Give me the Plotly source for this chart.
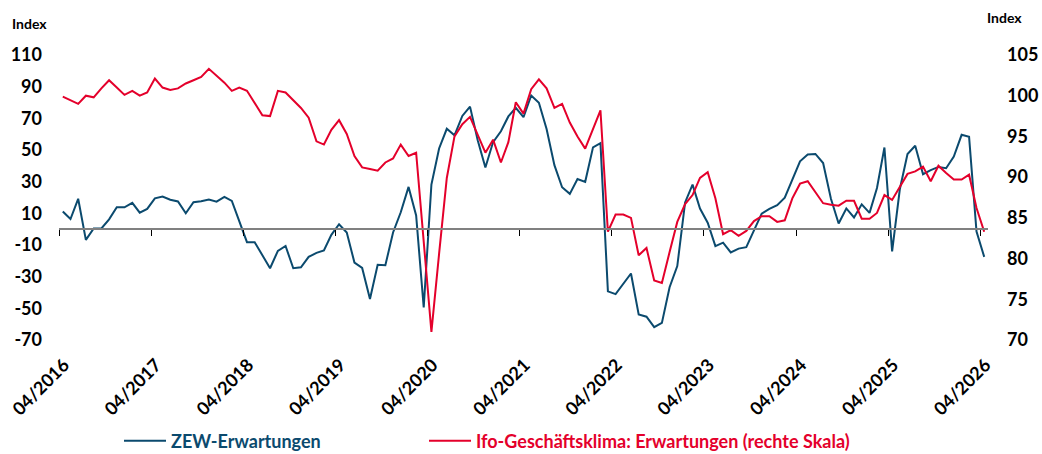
import plotly.graph_objects as go
import pandas as pd

# ---------------- data ----------------
months = pd.date_range("2016-04-01", "2026-04-01", freq="MS")

zew_expectations = [
    11.2, 6.4, 19.2, -6.8, 0.5, 0.5, 6.2, 13.8, 13.8,
    16.6, 10.4, 12.8, 19.5, 20.6, 18.6, 17.5, 10.0, 17.0, 17.6, 18.7, 17.4,
    20.4, 17.8, 5.1, -8.2, -8.2, -16.1, -24.7, -13.7, -10.6, -24.7, -24.1, -17.5,
    -15.0, -13.4, -3.6, 3.1, -2.1, -21.1, -24.5, -44.1, -22.5, -22.8, -2.1, 10.7,
    26.7, 8.7, -49.5, 28.2, 51.0, 63.4, 59.3, 71.5, 77.4, 56.1, 39.0, 55.0,
    61.8, 71.2, 76.6, 70.7, 84.4, 79.8, 63.3, 40.4, 26.5, 22.3, 31.7, 29.9,
    51.7, 54.3, -39.3, -41.0, -34.3, -28.0, -53.8, -55.3, -61.9, -59.2, -36.7, -23.3,
    16.9, 28.1, 13.0, 4.1, -10.7, -8.5, -14.7, -12.3, -11.4, -1.1, 9.8, 12.8,
    15.2, 19.9, 31.7, 42.9, 47.1, 47.5, 41.8, 19.2, 3.6, 13.1, 7.4, 15.7,
    10.3, 26.0, 51.6, -14.0, 25.2, 47.5, 52.7, 34.7, 37.3, 39.3, 38.5, 45.8,
    59.6, 58.3, -1.5, -17.5,
]

ifo_expectations = [
    99.9, 99.4, 99.0, 100.0, 99.8, 100.9, 101.9, 101.0, 100.1,
    100.6, 100.0, 100.4, 102.1, 101.0, 100.7, 100.9, 101.5, 101.9, 102.3, 103.3, 102.5,
    101.6, 100.6, 101.0, 100.6, 99.1, 97.6, 97.5, 100.6, 100.4, 99.5, 98.5, 97.3,
    94.4, 94.0, 95.8, 97.0, 95.3, 92.6, 91.2, 91.0, 90.8, 91.8, 92.3, 94.0,
    92.6, 93.0, 82.0, 71.0, 80.6, 89.9, 95.0, 96.5, 97.4, 95.2, 93.0, 94.6,
    91.8, 94.3, 99.2, 97.8, 100.8, 102.0, 100.9, 98.5, 99.0, 96.7, 95.0, 93.5,
    95.8, 98.2, 83.3, 85.4, 85.4, 85.0, 80.4, 81.3, 77.3, 77.0, 80.8, 84.5,
    86.7, 87.8, 89.9, 90.6, 87.4, 83.0, 83.5, 82.8, 83.4, 84.6, 85.2, 85.2,
    84.5, 84.7, 87.4, 89.2, 89.5, 88.1, 86.8, 86.6, 86.5, 87.1, 87.1, 84.9,
    84.9, 85.6, 87.8, 87.2, 88.8, 90.4, 90.7, 91.3, 89.5, 91.4, 90.5, 89.7,
    89.7, 90.3, 86.2, 83.3,
]

x_tick_dates = pd.date_range("2016-04-01", "2026-04-01", freq="12MS")
x_tick_text = [d.strftime("%m/%Y") for d in x_tick_dates]
left_ticks = list(range(-70, 111, 20))
right_ticks = list(range(70, 106, 5))

# ---------------- style ----------------
BLUE = "#0b4a6e"
RED = "#e4002b"
FONT = "Lato"
W, H = 1042, 454
ML, MR, MT, MB = 59, 54, 55, 114
PW, PH = W - ML - MR, H - MT - MB

x_range = [months[0], months[-1] + pd.offsets.MonthBegin(1)]
left_range = [left_ticks[0], left_ticks[-1]]
right_range = [right_ticks[0], right_ticks[-1]]

fig = go.Figure()
fig.add_trace(go.Scatter(
    x=months, y=zew_expectations, mode="lines",
    name=f"<span style='color:{BLUE}'>ZEW-Erwartungen</span>",
    line=dict(color=BLUE, width=2),
    xperiod="M1", xperiodalignment="middle",
    xaxis="x", yaxis="y", legend="legend",
))
fig.add_trace(go.Scatter(
    x=months, y=ifo_expectations, mode="lines",
    name=f"<span style='color:{RED}'>Ifo-Geschäftsklima: Erwartungen (rechte Skala)</span>",
    line=dict(color=RED, width=2),
    xperiod="M1", xperiodalignment="middle",
    xaxis="x", yaxis="y2", legend="legend2",
))
# empty trace so that the zero-line axis (x2) is rendered
fig.add_trace(go.Scatter(x=[], y=[], xaxis="x2", yaxis="y", showlegend=False,
                         hoverinfo="skip"))

tickfont = dict(family=FONT, size=18, color="black", weight="bold")
zero_pos = (0 - left_range[0]) / (left_range[1] - left_range[0])
legend_font = dict(family=FONT, size=18, weight="bold")
legend_y = (H - MB - 441) / PH

fig.update_layout(
    width=W, height=H,
    margin=dict(l=ML, r=MR, t=MT, b=MB, pad=0, autoexpand=False),
    paper_bgcolor="white", plot_bgcolor="white",
    font=dict(family=FONT, color="black"),
    hovermode=False,
    xaxis=dict(
        type="date", range=x_range, automargin=False,
        tickvals=x_tick_dates, ticktext=x_tick_text, tickangle=-45,
        tickfont=tickfont, showgrid=False, zeroline=False, showline=False,
        ticks="", ticklabelstandoff=10, ticklabelshift=5,
    ),
    xaxis2=dict(
        type="date", range=x_range, overlaying="x", anchor="free", position=zero_pos,
        automargin=False,
        tickvals=x_tick_dates, showticklabels=False, showgrid=False, zeroline=False,
        showline=True, linecolor="#808080", linewidth=2,
        ticks="outside", ticklen=6, tickwidth=1, tickcolor="black",
    ),
    yaxis=dict(
        range=left_range, tickvals=left_ticks, ticktext=[str(v) for v in left_ticks],
        automargin=False,
        tickfont=tickfont, showgrid=False, zeroline=False, showline=False,
        ticks="", ticklabelstandoff=16,
    ),
    yaxis2=dict(
        range=right_range, tickvals=right_ticks, ticktext=[str(v) for v in right_ticks],
        overlaying="y", side="right", automargin=False,
        tickfont=tickfont, showgrid=False, zeroline=False, showline=False,
        ticks="", ticklabelstandoff=18,
    ),
    showlegend=True,
    legend=dict(
        orientation="h", x=(119 - ML) / PW, xanchor="left",
        y=legend_y, yanchor="middle", font=legend_font, itemwidth=42,
        bgcolor="rgba(0,0,0,0)",
    ),
    legend2=dict(
        orientation="h", x=(424 - ML) / PW, xanchor="left",
        y=legend_y, yanchor="middle", font=legend_font, itemwidth=42,
        bgcolor="rgba(0,0,0,0)",
    ),
    annotations=[
        dict(text="<b>Index</b>", xref="paper", yref="paper",
             x=(10 - ML) / PW, y=(H - MB - 23) / PH, xanchor="left", yanchor="middle",
             showarrow=False, font=dict(family=FONT, size=14, color="black")),
        dict(text="<b>Index</b>", xref="paper", yref="paper",
             x=(985 - ML) / PW, y=(H - MB - 17) / PH, xanchor="left", yanchor="middle",
             showarrow=False, font=dict(family=FONT, size=14, color="black")),
    ],
)

fig.write_html(
    "out.html",
    config={"displayModeBar": False, "staticPlot": True},
    post_script="document.body.style.margin='0px';document.body.style.overflow='hidden';",
)
